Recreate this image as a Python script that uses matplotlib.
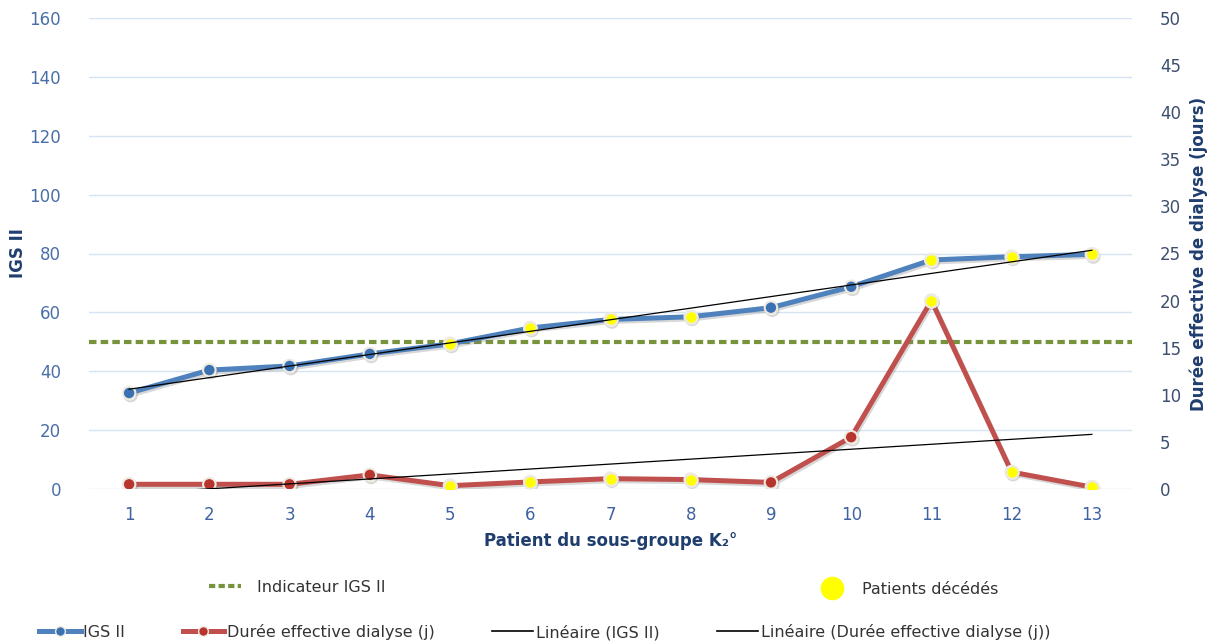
import matplotlib
matplotlib.use("Agg")
import matplotlib.pyplot as plt
import matplotlib.patheffects as pe
from matplotlib.lines import Line2D
import numpy as np

plt.rcParams["font.family"] = ["DejaVu Sans"]

# data
patients = np.arange(1, 14)
igs2 = [32.6, 40.4, 41.8, 45.9, 49.3, 54.7, 57.6, 58.5, 61.6, 68.7, 77.8, 78.9, 79.7]
dialyse_days = [0.5, 0.5, 0.5, 1.5, 0.35, 0.75, 1.1, 1.0, 0.7, 5.5, 20.0, 1.8, 0.2]
deceased = [5, 6, 7, 8, 11, 12, 13]
igs2_indicator = 50

left_ticks = [0, 20, 40, 60, 80, 100, 120, 140, 160]
right_ticks = [0, 5, 10, 15, 20, 25, 30, 35, 40, 45, 50]

BLUE_LINE = "#4F81BD"
BLUE_DOT = "#3B70B2"
RED_LINE = "#C0504D"
RED_DOT = "#B8342F"
GREEN = "#77933C"
YELLOW = "#FFFF00"
EDGE = "#EEEAE0"
GRID = "#D6E3F3"
LABEL = "#1F3E6E"

shadow = [pe.SimpleLineShadow(offset=(1, -1.5), shadow_color="#808080", alpha=0.3), pe.Normal()]

fig = plt.figure(figsize=(12.11, 6.44), dpi=100)
ax = fig.add_axes((89 / 1211, 1 - 489 / 644, (1132 - 89) / 1211, (489 - 18) / 644))
ax2 = ax.twinx()

ax.set_xlim(0.5, 13.5)
ax.set_ylim(0, 160)
ax2.set_ylim(0, 50)
ax.set_yticks(left_ticks)
ax2.set_yticks(right_ticks)
ax.set_xticks(patients)

ax.grid(axis="y", color=GRID, lw=1)
ax.set_axisbelow(True)
for a in (ax, ax2):
    for s in a.spines.values():
        s.set_visible(False)
    a.tick_params(length=0, labelsize=12)
ax.tick_params(axis="y", colors="#4A6FA8", pad=20)
ax.tick_params(axis="x", colors="#3F62A0", pad=12)
ax2.tick_params(axis="y", colors="#3E4F6E", pad=20)

# indicator
ax.axhline(igs2_indicator, color=GREEN, lw=3, ls=(0, (1.8, 1.0)), zorder=2)

# trend lines
igs_fit = np.polyval(np.polyfit(patients, igs2, 1), patients)
dia_fit = np.polyval(np.polyfit(patients, dialyse_days, 1), patients)

is_dead = np.isin(patients, deceased)
dead_x = patients[is_dead]

ax.plot(patients, igs2, color=BLUE_LINE, lw=3.6, marker="o", ms=9, mfc=BLUE_DOT,
        mec=EDGE, mew=1.5, zorder=3, path_effects=shadow)
ax.scatter(dead_x, np.array(igs2)[is_dead], s=81, color=YELLOW, edgecolor=EDGE,
           lw=1.5, zorder=4)
ax.plot(patients, igs_fit, color="black", lw=0.9, zorder=5)

ax2.plot(patients, dialyse_days, color=RED_LINE, lw=3.6, marker="o", ms=9, mfc=RED_DOT,
         mec=EDGE, mew=1.5, zorder=3, path_effects=shadow)
ax2.scatter(dead_x, np.array(dialyse_days)[is_dead], s=81, color=YELLOW, edgecolor=EDGE,
            lw=1.5, zorder=4)
ax2.plot(patients, dia_fit, color="black", lw=0.9, zorder=5)

ax.set_ylabel("IGS II", color=LABEL, fontsize=12, fontweight="bold", labelpad=2)
ax2.set_ylabel("Durée effective de dialyse (jours)", color=LABEL, fontsize=12,
               fontweight="bold", labelpad=6)
ax.set_xlabel("Patient du sous-groupe K₂°", color=LABEL, fontsize=12,
              fontweight="bold", labelpad=6)

# legends
def legend(handles, labels, anchor, ncol=1, spacing=2.0, hl=2.6, pad=0.15):
    return fig.legend(handles, labels, loc="center left", bbox_to_anchor=anchor,
                      bbox_transform=fig.transFigure, ncol=ncol, frameon=False,
                      fontsize=11.5, handlelength=hl, handletextpad=pad,
                      columnspacing=spacing, labelcolor="#333333")

legend([Line2D([], [], color=GREEN, lw=3, ls=(0, (1.5, 0.8)))], ["Indicateur IGS II"],
       (195 / 1211, 1 - 587 / 644), hl=2.0, pad=1.0)
legend([Line2D([], [], ls="none", marker="o", ms=16, color=YELLOW)], ["Patients décédés"],
       (797 / 1211, 1 - 589 / 644), pad=0.6)
legend(
    [
        Line2D([], [], color=BLUE_LINE, lw=3.6, marker="o", ms=7, mfc=BLUE_DOT, mec=EDGE),
        Line2D([], [], color=RED_LINE, lw=3.6, marker="o", ms=7, mfc=RED_DOT, mec=EDGE),
        Line2D([], [], color="black", lw=1.2),
        Line2D([], [], color="black", lw=1.2),
    ],
    ["IGS II", "Durée effective dialyse (j)", "Linéaire (IGS II)",
     "Linéaire (Durée effective dialyse (j))"],
    (25 / 1211, 1 - 632 / 644), ncol=4, spacing=3.6,
)

fig.savefig("out.png", dpi=100)
